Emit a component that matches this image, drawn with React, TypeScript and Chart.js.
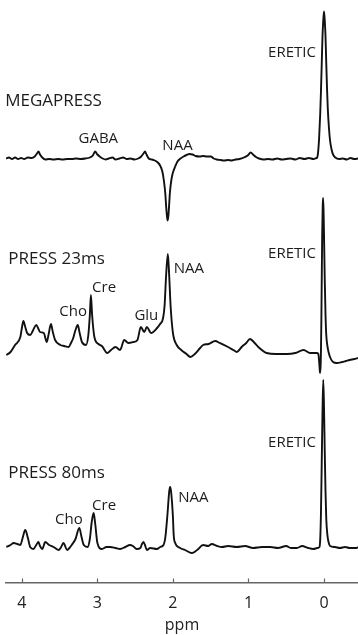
import React, { useEffect, useRef } from "react";
import { Chart, registerables } from "chart.js";

Chart.register(...registerables);

// ---- Data (ppm, intensity relative to each spectrum's baseline) ----
const MEGA_PPM = [4.21, 4.17, 4.13, 4.09, 4.05, 4.01, 3.97, 3.92, 3.87, 3.83, 3.8, 3.78, 3.76, 3.73, 3.69, 3.64, 3.58, 3.52, 3.46, 3.4, 3.34, 3.28, 3.22, 3.16, 3.1, 3.06, 3.03, 3.0, 2.97, 2.93, 2.89, 2.85, 2.8, 2.76, 2.71, 2.66, 2.61, 2.56, 2.51, 2.46, 2.42, 2.39, 2.37, 2.35, 2.32, 2.28, 2.24, 2.2, 2.17, 2.14, 2.12, 2.1, 2.09, 2.08, 2.07, 2.06, 2.05, 2.04, 2.02, 2.0, 1.97, 1.94, 1.9, 1.86, 1.82, 1.78, 1.74, 1.7, 1.65, 1.6, 1.55, 1.5, 1.46, 1.42, 1.37, 1.32, 1.27, 1.22, 1.17, 1.12, 1.06, 1.01, 0.97, 0.94, 0.9, 0.86, 0.8, 0.74, 0.68, 0.62, 0.56, 0.5, 0.44, 0.38, 0.32, 0.26, 0.2, 0.14, 0.1, 0.09, 0.08, 0.065, 0.05, 0.04, 0.03, 0.02, 0.01, 0.0, -0.01, -0.02, -0.03, -0.04, -0.05, -0.065, -0.08, -0.1, -0.12, -0.15, -0.2, -0.25, -0.3, -0.35, -0.4, -0.45];
const MEGA_VAL = [0, 1, -0.5, 1, -0.5, 0.5, -0.5, 1, 0.5, 2, 5, 7, 4, 1, -1, -0.5, -1, -0.5, -1, -0.5, -0.5, 0, -0.5, 0, 1, 3, 7, 4, 2, 0, -1, 0, 1, -1, 0, 1, -0.5, 0, -1, 0, 2, 5, 7, 4, 0, -1, -2, -4, -7, -13, -22, -36, -48, -57, -62, -57, -46, -34, -21, -14, -8, -3, 0, 2, 3.5, 4.5, 4, 2.5, 2, 2.5, 2, 2, 0, -1, -1.5, -2, -1.5, -2, -1, -0.5, 1, 3, 6, 4, 1.5, 0, -1, -0.5, -1, 0, -1, -0.5, 0, -1, 0.5, -0.5, 0.5, -0.5, 0.5, 1, 5, 20, 45, 68, 95, 122, 138, 147, 138, 122, 95, 70, 50, 31, 18, 9, 4, 1, -0.5, 0, -1, 0.5, -0.5, 0];

const P23_PPM = [4.206, 4.15, 4.09, 4.02, 4.0, 3.98, 3.955, 3.93, 3.89, 3.85, 3.81, 3.78, 3.76, 3.71, 3.67, 3.645, 3.615, 3.59, 3.56, 3.49, 3.44, 3.38, 3.35, 3.32, 3.29, 3.26, 3.235, 3.205, 3.15, 3.12, 3.1, 3.086, 3.07, 3.04, 2.985, 2.94, 2.87, 2.82, 2.76, 2.7, 2.645, 2.59, 2.52, 2.47, 2.425, 2.38, 2.345, 2.29, 2.21, 2.17, 2.13, 2.11, 2.09, 2.067, 2.05, 2.03, 2.0, 1.95, 1.89, 1.82, 1.77, 1.71, 1.64, 1.6, 1.53, 1.44, 1.38, 1.27, 1.2, 1.155, 1.09, 1.03, 0.98, 0.93, 0.87, 0.76, 0.635, 0.49, 0.38, 0.27, 0.185, 0.097, 0.075, 0.06, 0.053, 0.045, 0.04, 0.035, 0.03, 0.024, 0.017, 0.012, 0.006, 0.0, -0.01, -0.02, -0.03, -0.045, -0.06, -0.085, -0.12, -0.168, -0.24, -0.29, -0.34, -0.4, -0.45];
const P23_VAL = [5, 8, 15, 23, 32, 39, 33, 27, 25, 30, 35, 31, 28, 27, 18, 26, 36, 28, 20, 15, 14, 13, 17, 22, 30, 35, 27, 18, 15, 25, 45, 65, 45, 23, 16, 14, 7, 10, 13, 10, 20, 17, 18, 20, 33, 28, 33, 27, 32, 36, 42, 55, 85, 106, 85, 53, 27, 15, 10, 6, 3, 6, 12, 15, 16, 19, 17, 13, 10, 8, 13, 17, 21, 18, 13, 7, 6, 6, 7, 10, 7, 7, 6, -6, -13, -6, 10, 40, 80, 125, 155, 162, 150, 125, 80, 45, 25, 14, 8, 2, -2, -3, -2, -1, 0, 1, 2];

const P80_PPM = [4.206, 4.15, 4.11, 4.06, 4.02, 3.99, 3.955, 3.92, 3.89, 3.845, 3.81, 3.78, 3.76, 3.73, 3.69, 3.64, 3.58, 3.51, 3.48, 3.45, 3.4, 3.37, 3.34, 3.29, 3.24, 3.21, 3.18, 3.13, 3.1, 3.075, 3.05, 3.03, 3.0, 2.94, 2.88, 2.83, 2.76, 2.7, 2.63, 2.57, 2.53, 2.48, 2.43, 2.41, 2.39, 2.37, 2.345, 2.3, 2.21, 2.17, 2.125, 2.1, 2.07, 2.05, 2.037, 2.024, 2.0, 1.99, 1.97, 1.905, 1.84, 1.75, 1.68, 1.6, 1.535, 1.485, 1.415, 1.35, 1.27, 1.155, 1.045, 0.94, 0.82, 0.71, 0.61, 0.5, 0.44, 0.36, 0.29, 0.21, 0.14, 0.09, 0.06, 0.05, 0.04, 0.03, 0.02, 0.01, 0.0, -0.01, -0.02, -0.03, -0.045, -0.06, -0.08, -0.145, -0.21, -0.28, -0.34, -0.43, -0.45];
const P80_VAL = [0, 2, 4, 3, 2, 9, 17, 9, 0, -2, 2, 5, 1, -2, 5, 2, 0, -3, 0, 4, -3, -1, 2, 8, 19, 10, 2, 0, 8, 25, 34, 24, 4, -2, 0, 0, -1, -2, 0, 2, 1, -2, -1, 3, 5, 2, -3, -1, -2, 0, 2, 10, 35, 55, 60, 55, 30, 12, 4, -1, -3, -6, -3, 2, 1, 3, 1, 0, 1, 0, 1, -1, 0, 0, -1, 1, -1, -1, 1, -1, -2, -1, 0, 8, 35, 85, 135, 167, 140, 95, 55, 28, 12, 5, 1, 0, -1, 0, -1, -1, 0];

// Vertical stacking of the three spectra (baseline level on the hidden y scale)
const OFFSET_MEGA = 424;
const OFFSET_P23 = 222.5;
const OFFSET_P80 = 35.5;

const X_TICKS = [4, 3, 2, 1, 0];

// Annotations: text, ppm (left edge), intensity level, spectrum, font size
const LABEL_TEXT = ["MEGAPRESS", "GABA", "NAA", "ERETIC", "PRESS 23ms", "NAA", "Cre", "Cho", "Glu", "ERETIC", "PRESS 80ms", "NAA", "Cre", "Cho", "ERETIC"];
const LABEL_PPM = [4.22, 3.25, 2.14, 0.74, 4.18, 1.99, 3.07, 3.505, 2.51, 0.74, 4.18, 1.93, 3.07, 3.56, 0.74];
const LABEL_VAL = [57.5, 19.5, 13, 105.5, 100.5, 91, 72.5, 48.3, 44, 106.7, 73.7, 49.3, 41, 27, 104];
const LABEL_SERIES = [0, 0, 0, 0, 1, 1, 1, 1, 1, 1, 2, 2, 2, 2, 2];
const LABEL_SIZE = [17, 15, 15, 15, 17, 15, 15, 15, 15, 15, 17, 15, 15, 15, 15];

const OFFSETS = [OFFSET_MEGA, OFFSET_P23, OFFSET_P80];
const FONT = "'Open Sans', 'DejaVu Sans', sans-serif";

function toPoints(ppm: number[], vals: number[], off: number) {
  return ppm.map((p, i) => ({ x: p, y: vals[i] + off }));
}

const labelPlugin = {
  id: "spectrumLabels",
  afterDatasetsDraw(chart: any) {
    const { ctx, chartArea, scales } = chart;
    const xs = scales.x;
    const ys = scales.y;
    ctx.save();
    ctx.fillStyle = "#1c1c1c";
    ctx.textAlign = "left";
    ctx.textBaseline = "middle";
    LABEL_TEXT.forEach((t, i) => {
      ctx.font = `${LABEL_SIZE[i]}px ${FONT}`;
      ctx.fillText(t, xs.getPixelForValue(LABEL_PPM[i]), ys.getPixelForValue(LABEL_VAL[i] + OFFSETS[LABEL_SERIES[i]]));
    });
    // inward tick marks on the x axis
    ctx.strokeStyle = "#666";
    ctx.lineWidth = 1.2;
    xs.ticks.forEach((tk: any) => {
      const px = Math.round(xs.getPixelForValue(tk.value)) + 0.5;
      ctx.beginPath();
      ctx.moveTo(px, chartArea.bottom);
      ctx.lineTo(px, chartArea.bottom - 4);
      ctx.stroke();
    });
    ctx.restore();
  },
};

export default function App() {
  const ref = useRef<HTMLCanvasElement | null>(null);
  useEffect(() => {
    if (!ref.current) return;
    const lineStyle = {
      borderColor: "#111",
      borderWidth: 1.9,
      pointRadius: 0,
      fill: false,
      cubicInterpolationMode: "monotone" as const,
    };
    const chart = new Chart(ref.current, {
      type: "line",
      data: {
        datasets: [
          { label: "MEGAPRESS", data: toPoints(MEGA_PPM, MEGA_VAL, OFFSET_MEGA), ...lineStyle },
          { label: "PRESS 23ms", data: toPoints(P23_PPM, P23_VAL, OFFSET_P23), ...lineStyle },
          { label: "PRESS 80ms", data: toPoints(P80_PPM, P80_VAL, OFFSET_P80), ...lineStyle },
        ],
      },
      options: {
        animation: false,
        responsive: false,
        devicePixelRatio: 1,
        layout: { padding: { left: 6, right: 0, top: 0, bottom: 0 } },
        plugins: { legend: { display: false }, tooltip: { enabled: false } },
        scales: {
          x: {
            type: "linear",
            reverse: true,
            min: -0.45,
            max: 4.21,
            afterBuildTicks: (axis: any) => {
              axis.ticks = X_TICKS.map((v) => ({ value: v }));
            },
            afterFit: (axis: any) => {
              axis.height = 52.5;
            },
            grid: { display: false, drawTicks: false },
            border: { display: true, color: "#666", width: 1.5 },
            ticks: {
              padding: 11.5,
              color: "#222",
              font: { family: FONT, size: 16 },
              maxRotation: 0,
            },
            title: {
              display: true,
              text: "ppm",
              color: "#222",
              padding: { top: 0, bottom: 0 },
              font: { family: FONT, size: 16 },
            },
          },
          y: {
            type: "linear",
            display: false,
            min: 0,
            max: 582.5,
          },
        },
      },
      plugins: [labelPlugin],
    });
    return () => chart.destroy();
  }, []);
  return (
    <div style={{ position: "absolute", left: 0, top: 0, width: 358, height: 635 }}>
      <canvas ref={ref} width={358} height={635} style={{ display: "block" }} />
    </div>
  );
}
